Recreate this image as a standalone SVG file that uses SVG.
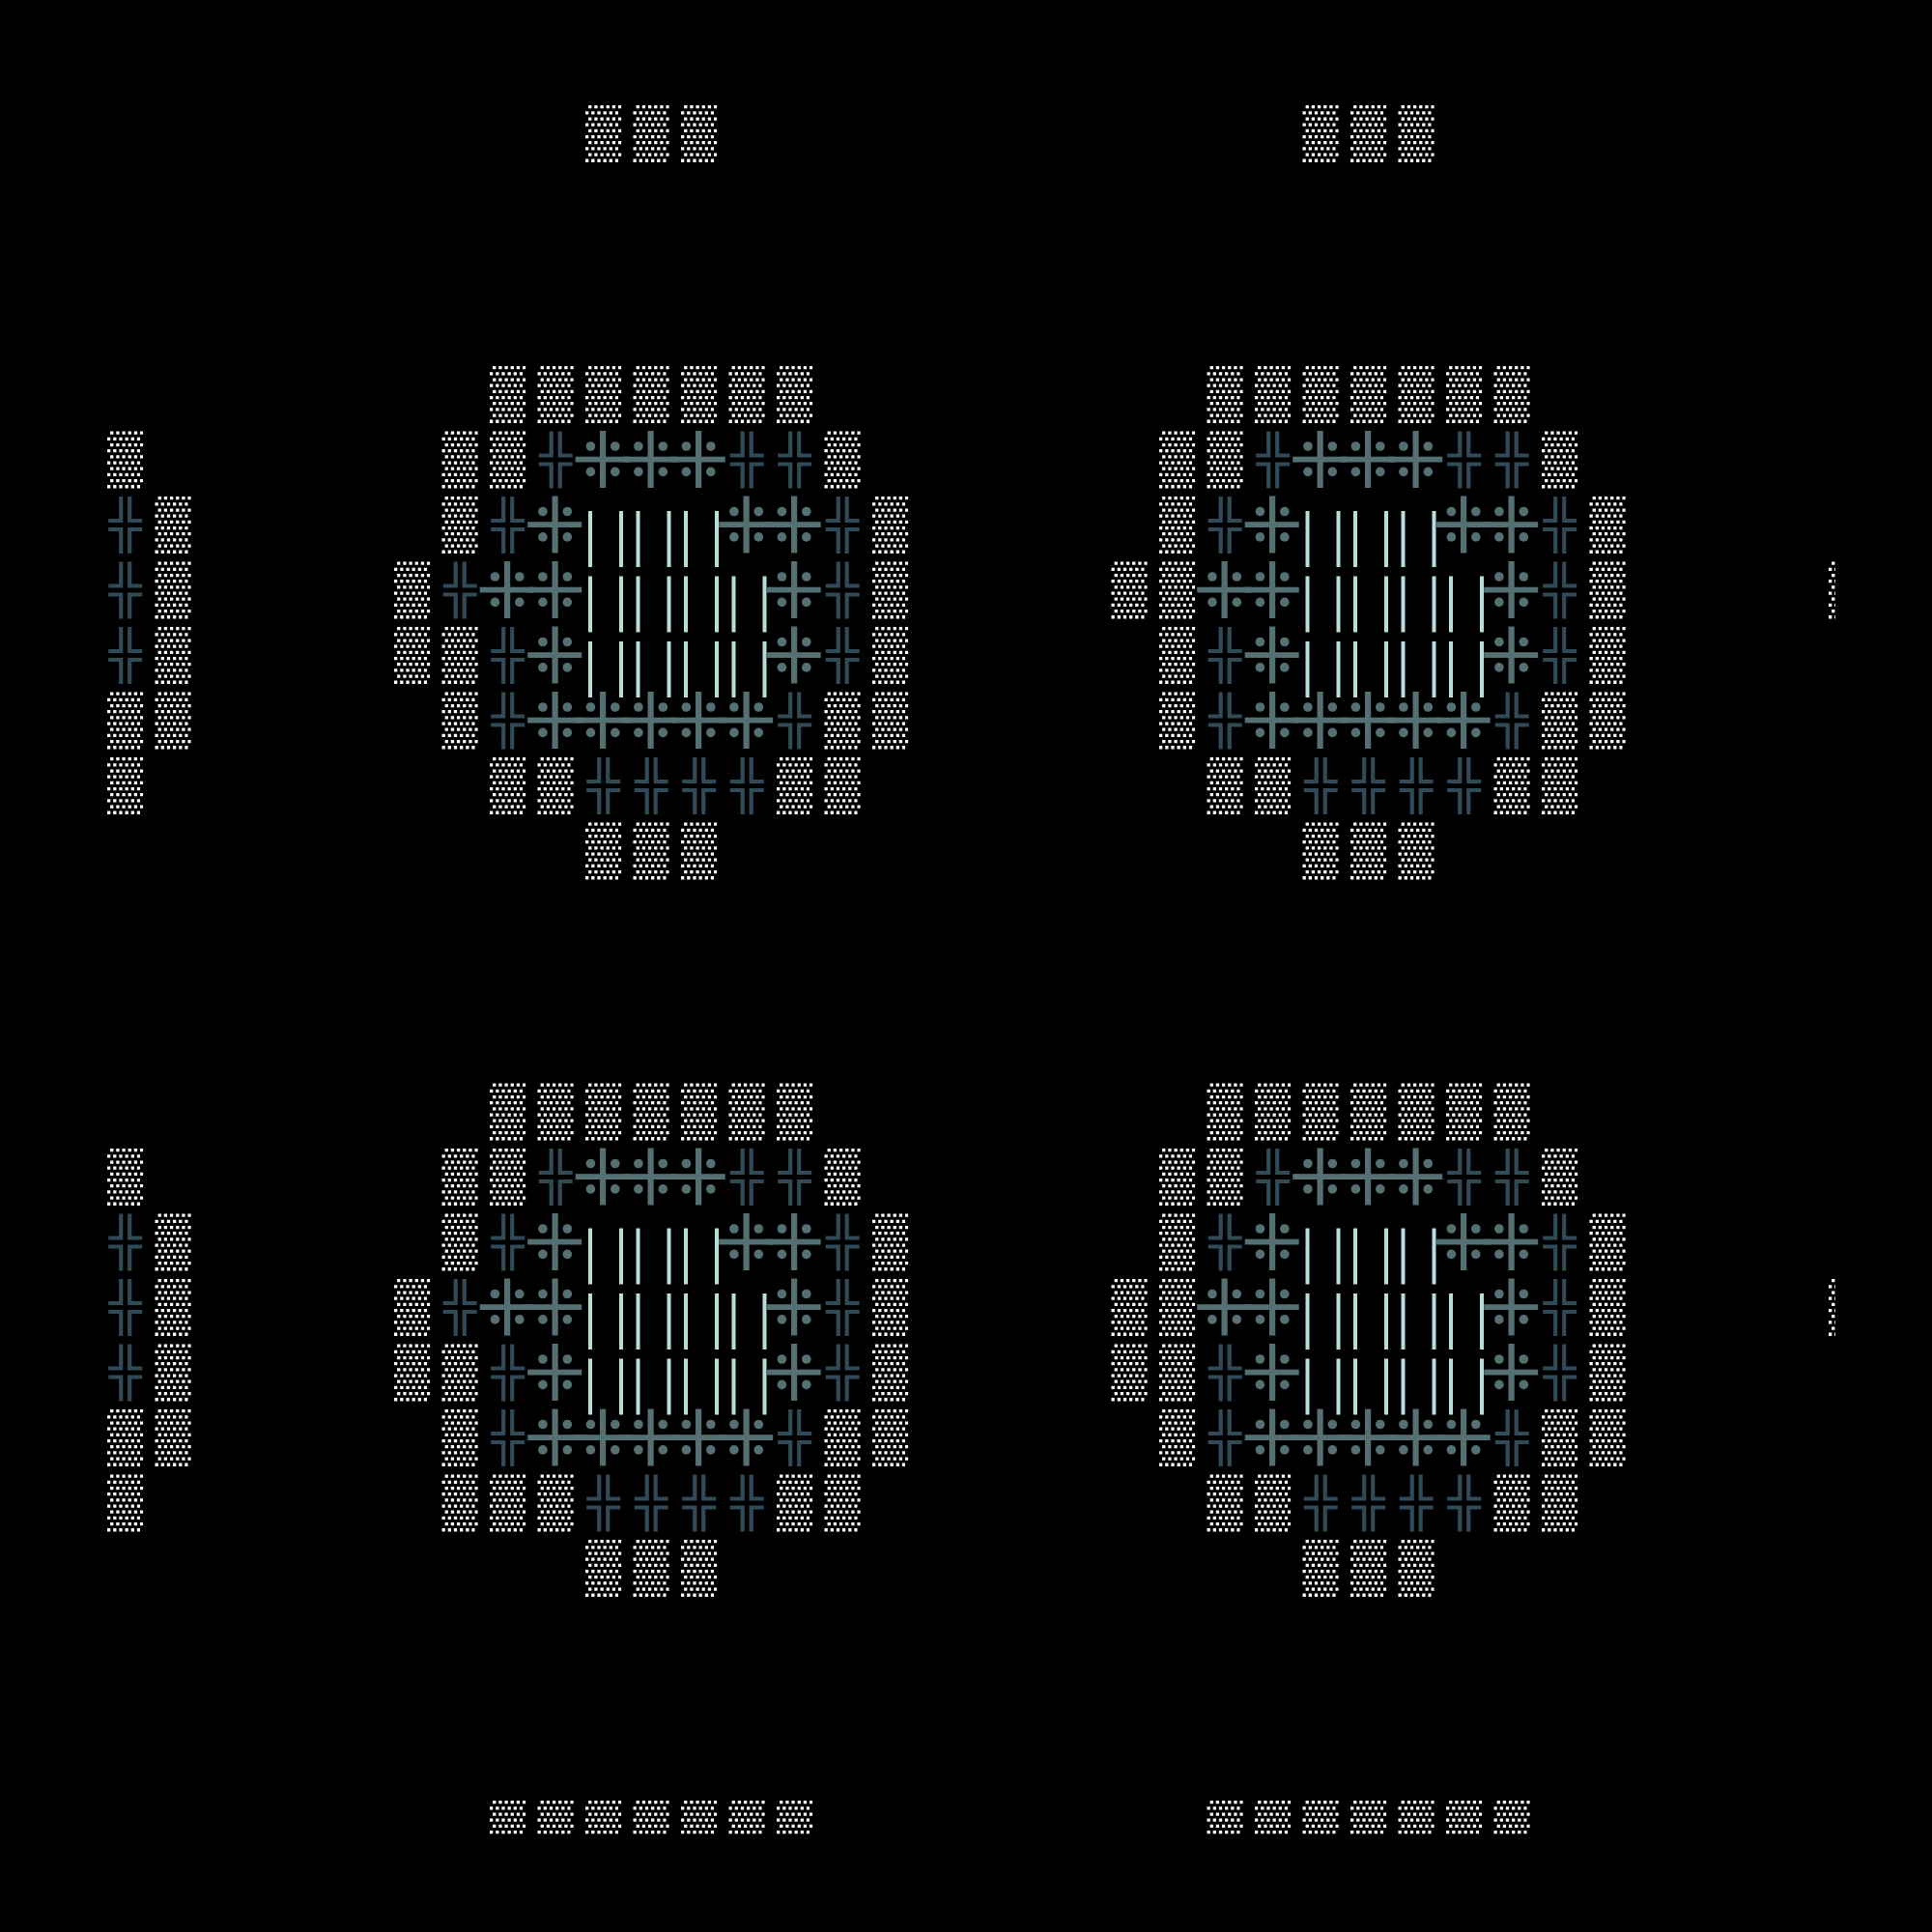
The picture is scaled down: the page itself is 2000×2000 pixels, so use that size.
<svg xmlns="http://www.w3.org/2000/svg" width="2000" height="2000" viewBox="0 0 2000 2000">
<style>
.dd{fill:none;stroke:#fff;stroke-width:3.3;stroke-dasharray:3.3 2.87}
.h{fill:#304a58}
.m{fill:#547072}
.l{fill:#b8dedb}
</style>
<defs>
<clipPath id="frame"><rect x="0" y="0" width="1900" height="1900"/></clipPath>
<g id="d"><path class="dd" d="M-15.6 -27.8h34M-18.7 -21.63h34M-15.6 -15.46h34M-18.7 -9.29h34M-15.6 -3.12h34M-18.7 3.05h34M-15.6 9.22h34M-18.7 15.39h34M-15.6 21.56h34M-18.7 27.73h34"/></g>
<g id="h" class="h"><path d="M-6.6 -29.5h4.2v27.1h-15.1v-4.2h10.9zM6.6 -29.5h-4.2v27.1h15.1v-4.2h-10.9zM-6.6 29.5h4.2v-27.1h-15.1v4.2h10.9zM6.6 29.5h-4.2v-27.1h15.1v4.2h-10.9z"/></g>
<g id="m" class="m"><rect x="-3.7" y="-30" width="6.2" height="59"/><rect x="-29" y="-3.3" width="56" height="5.8"/><circle cx="-13.3" cy="-14" r="4.8"/><circle cx="12.1" cy="-14" r="4.8"/><circle cx="-13.3" cy="12.4" r="4.8"/><circle cx="12.1" cy="12.4" r="4.8"/></g>
<g id="l" class="l"><rect x="-15.7" y="-14.5" width="4" height="58"/><rect x="16.3" y="-14.5" width="4" height="58"/></g>
</defs>
<rect x="0" y="0" width="2000" height="2000" fill="#000"/>
<g id="field" clip-path="url(#frame)">
<g id="row-0" transform="translate(0,138.5)"><use href="#d" x="624.7"/><use href="#d" x="674.2"/><use href="#d" x="723.7"/><use href="#d" x="1367.2"/><use href="#d" x="1416.7"/><use href="#d" x="1466.2"/></g>
<g id="row-4" transform="translate(0,408.5)"><use href="#d" x="525.7"/><use href="#d" x="575.2"/><use href="#d" x="624.7"/><use href="#d" x="674.2"/><use href="#d" x="723.7"/><use href="#d" x="773.2"/><use href="#d" x="822.7"/><use href="#d" x="1268.2"/><use href="#d" x="1317.7"/><use href="#d" x="1367.2"/><use href="#d" x="1416.7"/><use href="#d" x="1466.2"/><use href="#d" x="1515.7"/><use href="#d" x="1565.2"/></g>
<g id="row-5" transform="translate(0,476)"><use href="#d" x="129.7"/><use href="#d" x="476.2"/><use href="#d" x="525.7"/><use href="#h" x="575.2"/><use href="#m" x="624.7"/><use href="#m" x="674.2"/><use href="#m" x="723.7"/><use href="#h" x="773.2"/><use href="#h" x="822.7"/><use href="#d" x="872.2"/><use href="#d" x="1218.7"/><use href="#d" x="1268.2"/><use href="#h" x="1317.7"/><use href="#m" x="1367.2"/><use href="#m" x="1416.7"/><use href="#m" x="1466.2"/><use href="#h" x="1515.7"/><use href="#h" x="1565.2"/><use href="#d" x="1614.7"/></g>
<g id="row-6" transform="translate(0,543.5)"><use href="#h" x="129.7"/><use href="#d" x="179.2"/><use href="#d" x="476.2"/><use href="#h" x="525.7"/><use href="#m" x="575.2"/><use href="#l" x="624.7"/><use href="#l" x="674.2"/><use href="#l" x="723.7"/><use href="#m" x="773.2"/><use href="#m" x="822.7"/><use href="#h" x="872.2"/><use href="#d" x="921.7"/><use href="#d" x="1218.7"/><use href="#h" x="1268.2"/><use href="#m" x="1317.7"/><use href="#l" x="1367.2"/><use href="#l" x="1416.7"/><use href="#l" x="1466.2"/><use href="#m" x="1515.7"/><use href="#m" x="1565.2"/><use href="#h" x="1614.7"/><use href="#d" x="1664.2"/></g>
<g id="row-7" transform="translate(0,611)"><use href="#h" x="129.7"/><use href="#d" x="179.2"/><use href="#d" x="426.7"/><use href="#h" x="476.2"/><use href="#m" x="525.7"/><use href="#m" x="575.2"/><use href="#l" x="624.7"/><use href="#l" x="674.2"/><use href="#l" x="723.7"/><use href="#l" x="773.2"/><use href="#m" x="822.7"/><use href="#h" x="872.2"/><use href="#d" x="921.7"/><use href="#d" x="1169.2"/><use href="#d" x="1218.7"/><use href="#m" x="1268.2"/><use href="#m" x="1317.7"/><use href="#l" x="1367.2"/><use href="#l" x="1416.7"/><use href="#l" x="1466.2"/><use href="#l" x="1515.7"/><use href="#m" x="1565.2"/><use href="#h" x="1614.7"/><use href="#d" x="1664.2"/><use href="#d" x="1911.7"/></g>
<g id="row-8" transform="translate(0,678.5)"><use href="#h" x="129.7"/><use href="#d" x="179.2"/><use href="#d" x="426.7"/><use href="#d" x="476.2"/><use href="#h" x="525.7"/><use href="#m" x="575.2"/><use href="#l" x="624.7"/><use href="#l" x="674.2"/><use href="#l" x="723.7"/><use href="#l" x="773.2"/><use href="#m" x="822.7"/><use href="#h" x="872.2"/><use href="#d" x="921.7"/><use href="#d" x="1218.7"/><use href="#h" x="1268.2"/><use href="#m" x="1317.7"/><use href="#l" x="1367.2"/><use href="#l" x="1416.7"/><use href="#l" x="1466.2"/><use href="#l" x="1515.7"/><use href="#m" x="1565.2"/><use href="#h" x="1614.7"/><use href="#d" x="1664.2"/></g>
<g id="row-9" transform="translate(0,746)"><use href="#d" x="129.7"/><use href="#d" x="179.2"/><use href="#d" x="476.2"/><use href="#h" x="525.7"/><use href="#m" x="575.2"/><use href="#m" x="624.7"/><use href="#m" x="674.2"/><use href="#m" x="723.7"/><use href="#m" x="773.2"/><use href="#h" x="822.7"/><use href="#d" x="872.2"/><use href="#d" x="921.7"/><use href="#d" x="1218.7"/><use href="#h" x="1268.2"/><use href="#m" x="1317.7"/><use href="#m" x="1367.2"/><use href="#m" x="1416.7"/><use href="#m" x="1466.2"/><use href="#m" x="1515.7"/><use href="#h" x="1565.2"/><use href="#d" x="1614.7"/><use href="#d" x="1664.2"/></g>
<g id="row-10" transform="translate(0,813.5)"><use href="#d" x="129.7"/><use href="#d" x="525.7"/><use href="#d" x="575.2"/><use href="#h" x="624.7"/><use href="#h" x="674.2"/><use href="#h" x="723.7"/><use href="#h" x="773.2"/><use href="#d" x="822.7"/><use href="#d" x="872.2"/><use href="#d" x="1268.2"/><use href="#d" x="1317.7"/><use href="#h" x="1367.2"/><use href="#h" x="1416.7"/><use href="#h" x="1466.2"/><use href="#h" x="1515.7"/><use href="#d" x="1565.2"/><use href="#d" x="1614.7"/></g>
<g id="row-11" transform="translate(0,881)"><use href="#d" x="624.7"/><use href="#d" x="674.2"/><use href="#d" x="723.7"/><use href="#d" x="1367.2"/><use href="#d" x="1416.7"/><use href="#d" x="1466.2"/></g>
<g id="row-15" transform="translate(0,1151)"><use href="#d" x="525.7"/><use href="#d" x="575.2"/><use href="#d" x="624.7"/><use href="#d" x="674.2"/><use href="#d" x="723.7"/><use href="#d" x="773.2"/><use href="#d" x="822.7"/><use href="#d" x="1268.2"/><use href="#d" x="1317.7"/><use href="#d" x="1367.2"/><use href="#d" x="1416.7"/><use href="#d" x="1466.2"/><use href="#d" x="1515.7"/><use href="#d" x="1565.2"/></g>
<g id="row-16" transform="translate(0,1218.5)"><use href="#d" x="129.7"/><use href="#d" x="476.2"/><use href="#d" x="525.7"/><use href="#h" x="575.2"/><use href="#m" x="624.7"/><use href="#m" x="674.2"/><use href="#m" x="723.7"/><use href="#h" x="773.2"/><use href="#h" x="822.7"/><use href="#d" x="872.2"/><use href="#d" x="1218.7"/><use href="#d" x="1268.2"/><use href="#h" x="1317.7"/><use href="#m" x="1367.2"/><use href="#m" x="1416.7"/><use href="#m" x="1466.2"/><use href="#h" x="1515.7"/><use href="#h" x="1565.2"/><use href="#d" x="1614.7"/></g>
<g id="row-17" transform="translate(0,1286)"><use href="#h" x="129.7"/><use href="#d" x="179.2"/><use href="#d" x="476.2"/><use href="#h" x="525.7"/><use href="#m" x="575.2"/><use href="#l" x="624.7"/><use href="#l" x="674.2"/><use href="#l" x="723.7"/><use href="#m" x="773.2"/><use href="#m" x="822.7"/><use href="#h" x="872.2"/><use href="#d" x="921.7"/><use href="#d" x="1218.7"/><use href="#h" x="1268.2"/><use href="#m" x="1317.7"/><use href="#l" x="1367.2"/><use href="#l" x="1416.7"/><use href="#l" x="1466.2"/><use href="#m" x="1515.7"/><use href="#m" x="1565.2"/><use href="#h" x="1614.7"/><use href="#d" x="1664.2"/></g>
<g id="row-18" transform="translate(0,1353.5)"><use href="#h" x="129.7"/><use href="#d" x="179.2"/><use href="#d" x="426.7"/><use href="#h" x="476.2"/><use href="#m" x="525.7"/><use href="#m" x="575.2"/><use href="#l" x="624.7"/><use href="#l" x="674.2"/><use href="#l" x="723.7"/><use href="#l" x="773.2"/><use href="#m" x="822.7"/><use href="#h" x="872.2"/><use href="#d" x="921.7"/><use href="#d" x="1169.2"/><use href="#d" x="1218.7"/><use href="#m" x="1268.2"/><use href="#m" x="1317.7"/><use href="#l" x="1367.2"/><use href="#l" x="1416.7"/><use href="#l" x="1466.2"/><use href="#l" x="1515.7"/><use href="#m" x="1565.2"/><use href="#h" x="1614.7"/><use href="#d" x="1664.2"/><use href="#d" x="1911.7"/></g>
<g id="row-19" transform="translate(0,1421)"><use href="#h" x="129.7"/><use href="#d" x="179.2"/><use href="#d" x="426.7"/><use href="#d" x="476.2"/><use href="#h" x="525.7"/><use href="#m" x="575.2"/><use href="#l" x="624.7"/><use href="#l" x="674.2"/><use href="#l" x="723.7"/><use href="#l" x="773.2"/><use href="#m" x="822.7"/><use href="#h" x="872.2"/><use href="#d" x="921.7"/><use href="#d" x="1169.2"/><use href="#d" x="1218.7"/><use href="#h" x="1268.2"/><use href="#m" x="1317.7"/><use href="#l" x="1367.2"/><use href="#l" x="1416.7"/><use href="#l" x="1466.2"/><use href="#l" x="1515.7"/><use href="#m" x="1565.2"/><use href="#h" x="1614.7"/><use href="#d" x="1664.2"/></g>
<g id="row-20" transform="translate(0,1488.5)"><use href="#d" x="129.7"/><use href="#d" x="179.2"/><use href="#d" x="476.2"/><use href="#h" x="525.7"/><use href="#m" x="575.2"/><use href="#m" x="624.7"/><use href="#m" x="674.2"/><use href="#m" x="723.7"/><use href="#m" x="773.2"/><use href="#h" x="822.7"/><use href="#d" x="872.2"/><use href="#d" x="921.7"/><use href="#d" x="1218.7"/><use href="#h" x="1268.2"/><use href="#m" x="1317.7"/><use href="#m" x="1367.2"/><use href="#m" x="1416.7"/><use href="#m" x="1466.2"/><use href="#m" x="1515.7"/><use href="#h" x="1565.2"/><use href="#d" x="1614.7"/><use href="#d" x="1664.2"/></g>
<g id="row-21" transform="translate(0,1556)"><use href="#d" x="129.7"/><use href="#d" x="476.2"/><use href="#d" x="525.7"/><use href="#d" x="575.2"/><use href="#h" x="624.7"/><use href="#h" x="674.2"/><use href="#h" x="723.7"/><use href="#h" x="773.2"/><use href="#d" x="822.7"/><use href="#d" x="872.2"/><use href="#d" x="1268.2"/><use href="#d" x="1317.7"/><use href="#h" x="1367.2"/><use href="#h" x="1416.7"/><use href="#h" x="1466.2"/><use href="#h" x="1515.7"/><use href="#d" x="1565.2"/><use href="#d" x="1614.7"/></g>
<g id="row-22" transform="translate(0,1623.5)"><use href="#d" x="624.7"/><use href="#d" x="674.2"/><use href="#d" x="723.7"/><use href="#d" x="1367.2"/><use href="#d" x="1416.7"/><use href="#d" x="1466.2"/></g>
<g id="row-26" transform="translate(0,1893.5)"><use href="#d" x="525.7"/><use href="#d" x="575.2"/><use href="#d" x="624.7"/><use href="#d" x="674.2"/><use href="#d" x="723.7"/><use href="#d" x="773.2"/><use href="#d" x="822.7"/><use href="#d" x="1268.2"/><use href="#d" x="1317.7"/><use href="#d" x="1367.2"/><use href="#d" x="1416.7"/><use href="#d" x="1466.2"/><use href="#d" x="1515.7"/><use href="#d" x="1565.2"/></g>
</g>
</svg>
